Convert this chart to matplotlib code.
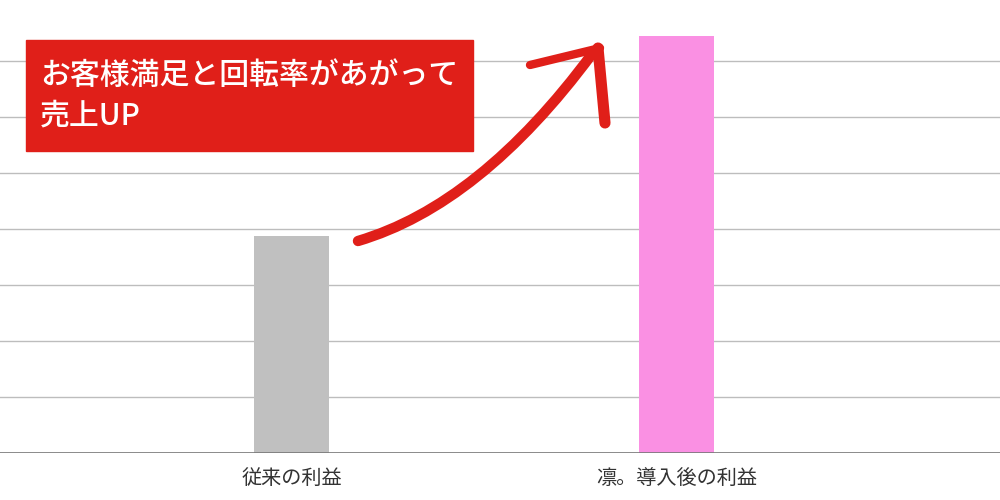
import matplotlib.pyplot as plt
from matplotlib.path import Path
from matplotlib.patches import PathPatch

plt.rcParams['font.family'] = ['Noto Sans CJK JP', 'DejaVu Sans']

# データ
categories = ['従来の利益', '凛。導入後の利益']
values = [3.88, 7.45]
bar_colors = ['#c0c0c0', '#fa90e3']
grid_levels = [1, 2, 3, 4, 5, 6, 7]
message = 'お客様満足と回転率があがって\n売上UP'

fig = plt.figure(figsize=(10, 5), dpi=100)
ax = fig.add_axes([0, 0.094, 1.0, 0.896])

x = list(range(len(categories)))
ax.bar(x, values, width=0.195, color=bar_colors, zorder=3)

for g in grid_levels:
    ax.axhline(g, color='#bdbdbd', linewidth=1, zorder=1)
ax.axhline(0, color='#777777', linewidth=1.2, zorder=4)

ax.set_xlim(-0.758, 1.839)
ax.set_ylim(0, 8)
ax.set_xticks(x)
ax.set_xticklabels(categories, fontsize=14.5, color='#333333')
ax.tick_params(axis='x', length=0, pad=11)
ax.set_yticks([])
for s in ax.spines.values():
    s.set_visible(False)

# 赤いボックス
def fy(py):
    return 1 - py / 500

def fx(px):
    return px / 1000

box = plt.Rectangle((fx(26), fy(151)), fx(473) - fx(26), fy(40) - fy(151),
                    transform=fig.transFigure, color='#e01f19', zorder=10)
fig.patches.append(box)
fig.text(fx(40), fy(96), message, color='white', fontsize=21.5, fontweight='medium',
         va='center', ha='left', linespacing=1.38, zorder=11)

# 矢印
verts = [(fx(358), fy(241)), (fx(480), fy(205)), (fx(592), fy(54))]
shaft = PathPatch(Path(verts, [Path.MOVETO, Path.CURVE3, Path.CURVE3]),
                  transform=fig.transFigure, fill=False, edgecolor='#e01f19',
                  linewidth=7.5, capstyle='round', zorder=10)
fig.patches.append(shaft)
fig.lines.append(plt.Line2D([fx(530), fx(600)], [fy(65), fy(48)],
                            transform=fig.transFigure, color='#e01f19',
                            linewidth=6, solid_capstyle='round', zorder=10))
fig.lines.append(plt.Line2D([fx(598), fx(605)], [fy(48), fy(123)],
                            transform=fig.transFigure, color='#e01f19',
                            linewidth=8, solid_capstyle='round', zorder=10))

fig.savefig('out.png')
